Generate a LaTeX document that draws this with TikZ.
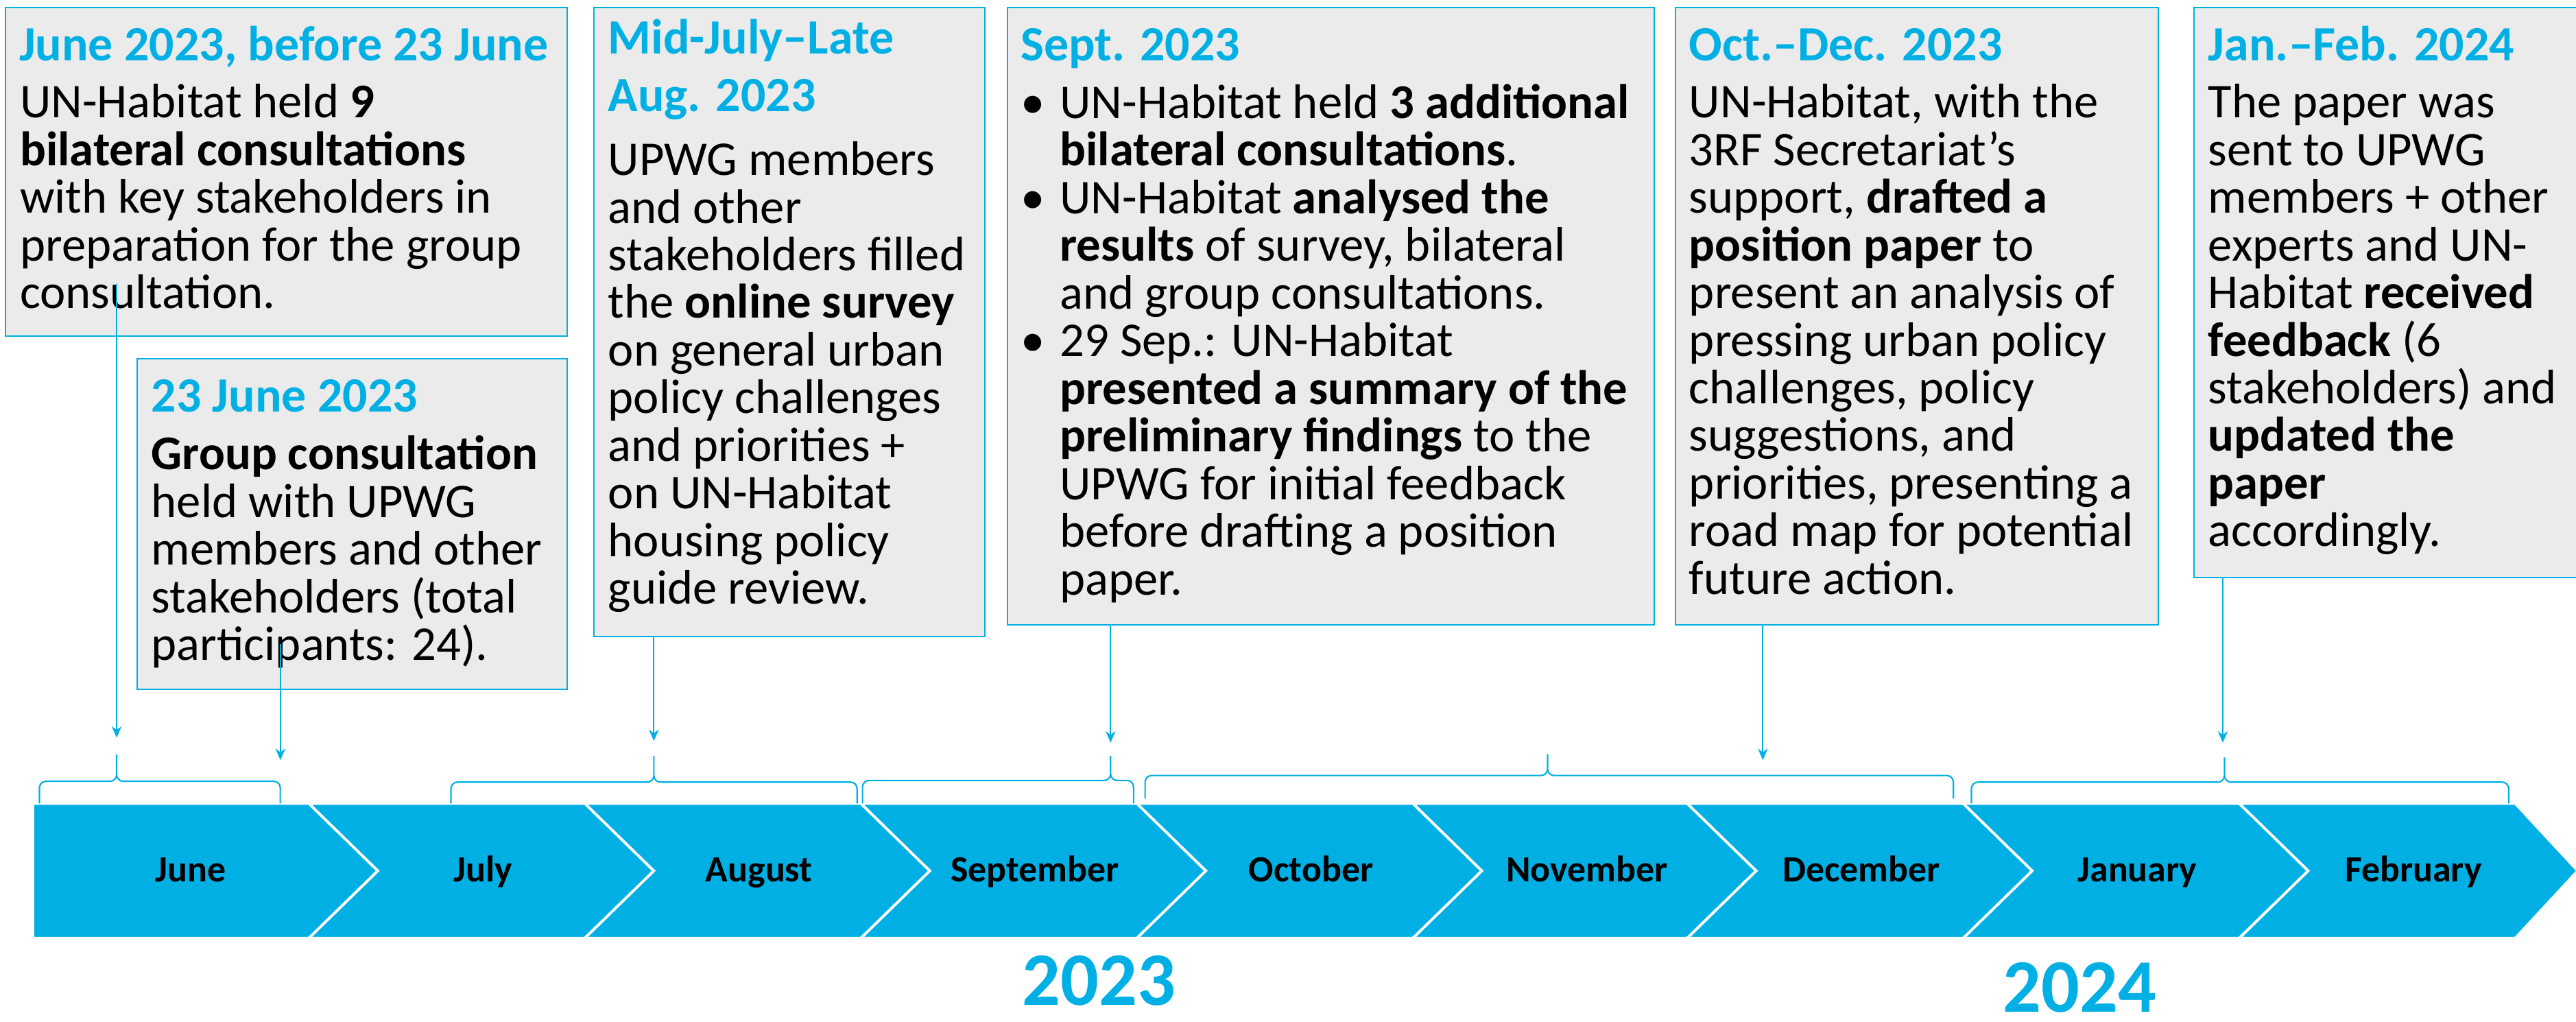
\documentclass[tikz,border=0pt]{standalone}
\usepackage{fontspec}
\setmainfont{Carlito}
\usetikzlibrary{arrows.meta}
\definecolor{unblue}{RGB}{0,176,228}
\definecolor{cardgray}{RGB}{235,235,235}

\begin{document}
\begin{tikzpicture}[x=1pt, y=-1pt,
    >={Stealth[length=7pt, width=6pt]},
    card/.style={draw=unblue, fill=cardgray, line width=0.8pt, anchor=north west, inner sep=0pt},
    cardtitle/.style={anchor=north west, inner sep=0pt, align=left, text=unblue,
        font=\bfseries\fontsize{30}{35}\selectfont, execute at begin node=\rule{0pt}{25pt}},
    cardtext/.style={anchor=north west, inner sep=0pt, align=left,
        font=\fontsize{29.5}{29}\selectfont, execute at begin node=\rule{0pt}{25pt}},
    chevron/.style={fill=unblue, draw=white, line width=1.6pt},
    month/.style={anchor=base, font=\bfseries\fontsize{22.5}{27}\selectfont},
    year/.style={anchor=base, text=unblue, font=\bfseries\fontsize{46}{50}\selectfont},
    link/.style={->, draw=unblue, line width=0.9pt},
    bracket/.style={draw=unblue, line width=0.9pt, rounded corners=4pt}]

    \useasboundingbox (0,0) rectangle (1568,622);

    \filldraw[chevron] (20,489) -- (188,489) -- (230,530) -- (188,571) -- (20,571) -- cycle;
    \filldraw[chevron] (188,489) -- (356,489) -- (398,530) -- (356,571) -- (188,571) -- (230,530) -- cycle;
    \filldraw[chevron] (356,489) -- (524,489) -- (566,530) -- (524,571) -- (356,571) -- (398,530) -- cycle;
    \filldraw[chevron] (524,489) -- (692,489) -- (734,530) -- (692,571) -- (524,571) -- (566,530) -- cycle;
    \filldraw[chevron] (692,489) -- (860,489) -- (902,530) -- (860,571) -- (692,571) -- (734,530) -- cycle;
    \filldraw[chevron] (860,489) -- (1027,489) -- (1069,530) -- (1027,571) -- (860,571) -- (902,530) -- cycle;
    \filldraw[chevron] (1027,489) -- (1195,489) -- (1237,530) -- (1195,571) -- (1027,571) -- (1069,530) -- cycle;
    \filldraw[chevron] (1195,489) -- (1363,489) -- (1405,530) -- (1363,571) -- (1195,571) -- (1237,530) -- cycle;
    \filldraw[chevron] (1363,489) -- (1531,489) -- (1569,530) -- (1531,571) -- (1363,571) -- (1405,530) -- cycle;

    \node[month] (june) at (116,536.5) {June};
    \node[month] (july) at (294,536.5) {July};
    \node[month] (august) at (462,536.5) {August};
    \node[month] (september) at (630,536.5) {September};
    \node[month] (october) at (798,536.5) {October};
    \node[month] (november) at (966,536.5) {November};
    \node[month] (december) at (1133,536.5) {December};
    \node[month] (january) at (1301,536.5) {January};
    \node[month] (february) at (1469,536.5) {February};

    \node[year] (y2023) at (669,611.7) {2023};
    \node[year] (y2024) at (1266,616) {2024};

    \draw[bracket] (24,489) -- (24,475.5) -- (71,475.5) -- (71,459) (170.6,489) -- (170.6,475.5) -- (71,475.5) -- (71,459);
    \draw[bracket] (274.5,489) -- (274.5,476) -- (398,476) -- (398,460) (521.7,489) -- (521.7,476) -- (398,476) -- (398,460);
    \draw[bracket] (525,489) -- (525,475) -- (676,475) -- (676,460) (690,489) -- (690,475) -- (676,475) -- (676,460);
    \draw[bracket] (697,486) -- (697,472) -- (942,472) -- (942,459) (1189,486) -- (1189,472) -- (942,472) -- (942,459);
    \draw[bracket] (1200,489) -- (1200,476) -- (1354,476) -- (1354,461) (1527,489) -- (1527,476) -- (1354,476) -- (1354,461);

    \node[card, minimum width=342, minimum height=200] (bilat-box) at (3,4) {};
    \node[cardtitle] (bilat-title) at (11.5,11.6) {June 2023, before 23 June};
    \node[cardtext] (bilat-text) at (12,51) {UN-Habitat held \textbf{9}\\
        \textbf{bilateral consultations}\\
        with key stakeholders in\\
        preparation for the group\\
        consultation.};

    \node[card, minimum width=262, minimum height=201] (group-box) at (83,218) {};
    \node[cardtitle] (group-title) at (92,225.5) {23 June 2023};
    \node[cardtext] (group-text) at (92,265) {\textbf{Group consultation}\\
        held with UPWG\\
        members and other\\
        stakeholders (total\\
        participants: 24).};

    \node[card, minimum width=238, minimum height=383] (survey-box) at (361,4) {};
    \node[cardtitle] (survey-title) at (370,11.6) {Mid-July--Late\\Aug. 2023};
    \node[cardtext] (survey-text) at (370,86) {UPWG members\\
        and other\\
        stakeholders filled\\
        the \textbf{online survey}\\
        on general urban\\
        policy challenges\\
        and priorities +\\
        on UN-Habitat\\
        housing policy\\
        guide review.};

    \node[card, minimum width=393.5, minimum height=376] (sept-box) at (613,4) {};
    \node[cardtitle] (sept-title) at (621,11.6) {Sept. 2023};
    \node[cardtext] (sept-text) at (621,51) {\makebox[24pt][l]{\textbullet}UN-Habitat held \textbf{3 additional}\\
        \hspace*{24pt}\textbf{bilateral consultations}.\\
        \makebox[24pt][l]{\textbullet}UN-Habitat \textbf{analysed the}\\
        \hspace*{24pt}\textbf{results} of survey, bilateral\\
        \hspace*{24pt}and group consultations.\\
        \makebox[24pt][l]{\textbullet}29 Sep.: UN-Habitat\\
        \hspace*{24pt}\textbf{presented a summary of the}\\
        \hspace*{24pt}\textbf{preliminary findings} to the\\
        \hspace*{24pt}UPWG for initial feedback\\
        \hspace*{24pt}before drafting a position\\
        \hspace*{24pt}paper.};

    \node[card, minimum width=294, minimum height=376] (paper-box) at (1019.5,4) {};
    \node[cardtitle] (paper-title) at (1028,11.6) {Oct.--Dec. 2023};
    \node[cardtext] (paper-text) at (1028,51) {UN-Habitat, with the\\
        3RF Secretariat's\\
        support, \textbf{drafted a}\\
        \textbf{position paper} to\\
        present an analysis of\\
        pressing urban policy\\
        challenges, policy\\
        suggestions, and\\
        priorities, presenting a\\
        road map for potential\\
        future action.};

    \node[card, minimum width=260, minimum height=347] (update-box) at (1335,4) {};
    \node[cardtitle] (update-title) at (1344,11.6) {Jan.--Feb. 2024};
    \node[cardtext] (update-text) at (1344,51) {The paper was\\
        sent to UPWG\\
        members + other\\
        experts and UN-\\
        Habitat \textbf{received}\\
        \textbf{feedback} (6\\
        stakeholders) and\\
        \textbf{updated the}\\
        \textbf{paper}\\
        accordingly.};

    \coordinate (bilat-tip) at (71,449);
    \coordinate (group-tip) at (170.7,462.6);
    \coordinate (survey-tip) at (398,451);
    \coordinate (sept-tip) at (676,452);
    \coordinate (paper-tip) at (1073,462.6);
    \coordinate (update-tip) at (1353,452);

    \draw[link] ([yshift=32pt]bilat-box.south -| bilat-tip) -- (bilat-tip);
    \draw[link] ([yshift=28pt]group-box.south -| group-tip) -- (group-tip);
    \draw[link] (survey-box.south -| survey-tip) -- (survey-tip);
    \draw[link] (sept-box.south -| sept-tip) -- (sept-tip);
    \draw[link] (paper-box.south -| paper-tip) -- (paper-tip);
    \draw[link] (update-box.south -| update-tip) -- (update-tip);
\end{tikzpicture}
\end{document}
